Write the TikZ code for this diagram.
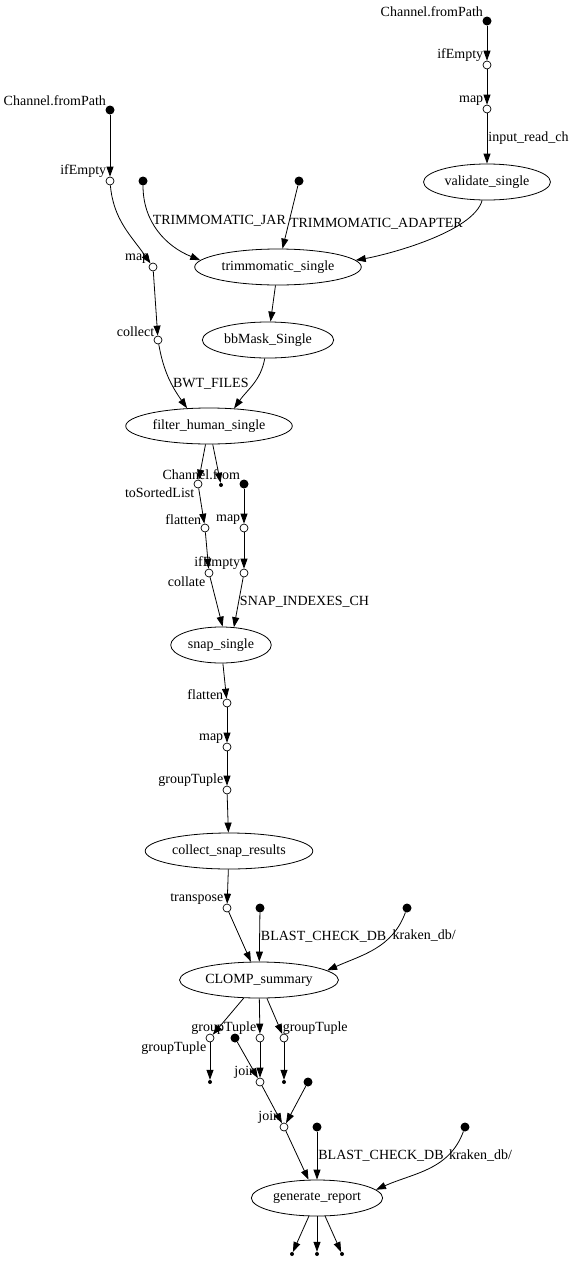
\documentclass[tikz,border=0pt]{standalone}
\usepackage{fontspec}
\setmainfont{Liberation Serif}
\usetikzlibrary{arrows.meta,shapes.geometric}

\begin{document}
\begin{tikzpicture}[x=1pt,y=-1pt,font=\fontsize{14}{16}\selectfont,
    >={Triangle[length=10pt,width=7pt]},
    chan/.style={circle,fill,inner sep=0pt,minimum size=9pt},
    oper/.style={circle,draw,fill=white,line width=0.7pt,inner sep=0pt,minimum size=8pt},
    sinkpt/.style={circle,fill,inner sep=0pt,minimum size=4pt},
    proc/.style={ellipse,draw,line width=0.8pt,inner xsep=2.5pt,inner ysep=1pt,minimum height=36pt},
    xl/.style={inner sep=0.5pt},
    elbl/.style={right,inner sep=1pt},
    flow/.style={->,line width=0.8pt}]
  \useasboundingbox (0,0) rectangle (571,1261);

  \node[chan,label={[xl]above left:Channel.fromPath}] (fpA) at (487,21) {};
  \node[oper,label={[xl]above left:ifEmpty}] (emptyA) at (487,65) {};
  \node[oper,label={[xl]above left:map}] (mapA) at (487,109) {};
  \node[proc] (validate) at (487,182) {validate\_single};

  \node[chan,label={[xl]above left:Channel.fromPath}] (fpB) at (110,110) {};
  \node[oper,label={[xl]above left:ifEmpty}] (emptyB) at (110,181) {};
  \node[oper,label={[xl]above left:map}] (mapB) at (153,267) {};
  \node[oper,label={[xl]above left:collect}] (collectB) at (158,340) {};
  \node[chan] (jar) at (143,181) {};
  \node[chan] (adapter) at (299,181) {};
  \node[proc] (trim) at (278,267) {trimmomatic\_single};
  \node[proc] (bbmask) at (268,340) {bbMask\_Single};
  \node[proc] (filter) at (209,426) {filter\_human\_single};

  \node[oper,label={[xl]below left:toSortedList}] (sorted) at (198,484) {};
  \node[sinkpt] (sinkA) at (221,485) {};
  \node[chan,label={[xl]above left:Channel.from}] (chfrom) at (244,484) {};
  \node[oper,label={[xl]above left:flatten}] (flatA) at (205,528) {};
  \node[oper,label={[xl]above left:map}] (mapC) at (244,528) {};
  \node[oper,label={[xl]below left:collate}] (collate) at (209,573) {};
  \node[oper,label={[xl]above left:ifEmpty}] (emptyC) at (244,573) {};
  \node[proc] (snap) at (221,645) {snap\_single};

  \node[oper,label={[xl]above left:flatten}] (flatB) at (227,703) {};
  \node[oper,label={[xl]above left:map}] (mapD) at (227,747) {};
  \node[oper,label={[xl]above left:groupTuple}] (groupA) at (227,790) {};
  \node[proc] (collsnap) at (229,851) {collect\_snap\_results};
  \node[oper,label={[xl]above left:transpose}] (transpose) at (227,908) {};
  \node[chan] (blastA) at (260,908) {};
  \node[chan] (krakenA) at (407,908) {};
  \node[proc] (clomp) at (259,980) {CLOMP\_summary};

  \node[oper,label={[xl]below left:groupTuple}] (groupB) at (210,1038) {};
  \node[chan] (srcC) at (235,1038) {};
  \node[oper,label={[xl]above left:groupTuple}] (groupC) at (260,1038) {};
  \node[oper,label={[xl,xshift=-5pt]above right:groupTuple}] (groupD) at (284,1038) {};
  \node[sinkpt] (sinkB) at (210,1082) {};
  \node[oper,label={[xl]above left:join}] (joinA) at (260,1082) {};
  \node[sinkpt] (sinkC) at (284,1082) {};
  \node[chan] (srcD) at (308,1082) {};
  \node[oper,label={[xl]above left:join}] (joinB) at (284,1127) {};
  \node[chan] (blastB) at (317,1127) {};
  \node[chan] (krakenB) at (465,1127) {};
  \node[proc] (report) at (317,1198) {generate\_report};
  \node[sinkpt] (sinkD) at (292,1254) {};
  \node[sinkpt] (sinkE) at (317,1254) {};
  \node[sinkpt] (sinkF) at (342,1254) {};

  \path[flow] (fpA) edge (emptyA);
  \path[flow] (emptyA) edge (mapA);
  \path[flow] (mapA) edge node[elbl] {input\_read\_ch} (validate);
  \path[flow] (fpB) edge (emptyB);
  \path[flow] (emptyB) edge[out=-85,in=125] (mapB);
  \path[flow] (mapB) edge (collectB);
  \path[flow] (jar) edge[out=-90,in=158] node[elbl,pos=0.36] {TRIMMOMATIC\_JAR} (trim.175);
  \path[flow] (adapter) edge node[elbl,pos=0.6] {TRIMMOMATIC\_ADAPTER} (trim);
  \path[flow] (validate) edge[out=-105,in=10,looseness=0.6] (trim.5);
  \path[flow] (trim) edge (bbmask);
  \path[flow] (collectB) edge[out=-80,in=125] node[elbl,pos=0.6] {BWT\_FILES} (filter.141);
  \path[flow] (bbmask) edge[out=-100,in=55] (filter.35);

  \path[flow] (filter) edge (sorted);
  \path[flow] (filter) edge (sinkA);
  \path[flow] (sorted) edge (flatA);
  \path[flow] (flatA) edge (collate);
  \path[flow] (collate) edge (snap.85);
  \path[flow] (chfrom) edge (mapC);
  \path[flow] (mapC) edge (emptyC);
  \path[flow] (emptyC) edge node[elbl] {SNAP\_INDEXES\_CH} (snap.54);

  \path[flow] (snap) edge (flatB);
  \path[flow] (flatB) edge (mapD);
  \path[flow] (mapD) edge (groupA);
  \path[flow] (groupA) edge (collsnap);
  \path[flow] (collsnap) edge (transpose);
  \path[flow] (transpose) edge (clomp);
  \path[flow] (blastA) edge node[elbl] {BLAST\_CHECK\_DB} (clomp);
  \path[flow] (krakenA) edge[out=-110,in=24] node[elbl,pos=0.27] {kraken\_db/} (clomp.8);

  \path[flow] (clomp) edge (groupB);
  \path[flow] (clomp) edge (groupC);
  \path[flow] (clomp) edge (groupD);
  \path[flow] (groupB) edge (sinkB);
  \path[flow] (groupD) edge (sinkC);
  \path[flow] (groupC) edge (joinA);
  \path[flow] (srcC) edge (joinA);
  \path[flow] (joinA) edge (joinB);
  \path[flow] (srcD) edge (joinB);
  \path[flow] (joinB) edge (report);
  \path[flow] (blastB) edge node[elbl] {BLAST\_CHECK\_DB} (report);
  \path[flow] (krakenB) edge[out=-110,in=24] node[elbl,pos=0.27] {kraken\_db/} (report.8);
  \path[flow] (report) edge (sinkD);
  \path[flow] (report) edge (sinkE);
  \path[flow] (report) edge (sinkF);
\end{tikzpicture}
\end{document}
